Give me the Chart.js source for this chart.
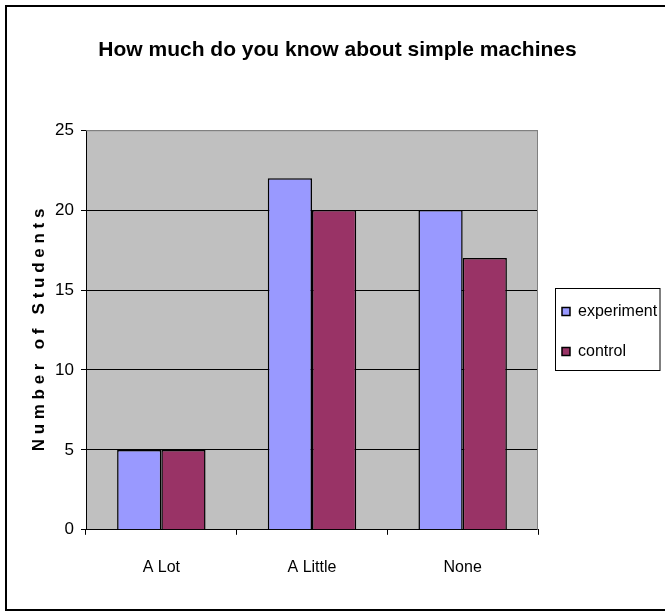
<!DOCTYPE html>
<html>
<head>
<meta charset="utf-8">
<script src="https://cdn.jsdelivr.net/npm/chart.js@4.4.0/dist/chart.umd.min.js"></script>
<style>
  html, body { margin: 0; padding: 0; background: #ffffff; }
  #wrap { width: 665px; height: 614px; }
</style>
</head>
<body>
<div id="wrap"><canvas id="barChart"></canvas></div>
<script>
//////////////////////* Data *////////////////////////////
let answers = ["A Lot", "A Little", "None"];

let experimentCounts = [5, 22, 20];
let controlCounts = [5, 20, 17];

let yTicks = [0, 5, 10, 15, 20, 25];

//////////////////////* Styles *////////////////////////////
let mainFont = "'Liberation Sans', Arial, sans-serif";
let experimentColor = "#9999FF";
let controlColor = "#993366";
let plotGray = "#C0C0C0";
let plotBorder = "#808080";

// gray plot area, frame round the picture and box round the legend
let decorPlugin = {
    id: "decor",
    beforeDraw: function (chart) {
        let ctx = chart.ctx;
        let a = chart.chartArea;
        ctx.save();
        ctx.fillStyle = plotGray;
        ctx.fillRect(a.left, a.top, a.right - a.left, a.bottom - a.top);
        ctx.restore();
    },
    afterDatasetsDraw: function (chart) {
        let ctx = chart.ctx;
        let a = chart.chartArea;
        ctx.save();
        ctx.strokeStyle = plotBorder;
        ctx.lineWidth = 1;
        ctx.beginPath();
        ctx.moveTo(a.left, a.top + 0.5);
        ctx.lineTo(a.right - 0.5, a.top + 0.5);
        ctx.lineTo(a.right - 0.5, a.bottom);
        ctx.stroke();
        ctx.restore();
    },
    afterDraw: function (chart) {
        let ctx = chart.ctx;
        ctx.save();
        ctx.strokeStyle = "#000000";
        ctx.lineWidth = 2;
        ctx.strokeRect(6, 6, 680, 604);

        let boxes = chart.legend.legendHitBoxes;
        if (boxes && boxes.length) {
            let first = boxes[0];
            let last = boxes[boxes.length - 1];
            let c0 = first.top + first.height / 2;
            let c1 = last.top + last.height / 2;
            let left = Math.round(first.left - 7) + 0.5;
            ctx.lineWidth = 1;
            ctx.strokeRect(left, Math.round(c0 - 24) + 0.5, 660 - left, Math.round(c1 - c0 + 42));
        }
        ctx.restore();
    }
};

//////////////////////* Bar Chart *////////////////////////////
function barChart() {
    let ctx = document.getElementById("barChart");
    let data = {
        labels: answers,
        datasets: [
            {
                label: "experiment",
                data: experimentCounts,
                backgroundColor: experimentColor,
                borderColor: "#000000",
                borderWidth: 1.5,
                categoryPercentage: 0.587,
                barPercentage: 1.0,
            },
            {
                label: "control",
                data: controlCounts,
                backgroundColor: controlColor,
                borderColor: "#000000",
                borderWidth: 1.5,
                categoryPercentage: 0.587,
                barPercentage: 1.0,
            },
        ],
    };
    let config = {
        type: "bar",
        data: data,
        plugins: [decorPlugin],
        options: {
            responsive: true,
            maintainAspectRatio: false,
            animation: false,
            layout: {
                padding: { left: 15, right: 5, top: 0, bottom: 14 },
            },
            plugins: {
                title: {
                    display: true,
                    text: "How much do you know about simple machines",
                    color: "#000000",
                    font: { family: mainFont, weight: "bold", size: 21, lineHeight: 1.2 },
                    padding: { top: 38, bottom: 67 },
                },
                legend: {
                    position: "right",
                    align: "center",
                    maxWidth: 122,
                    title: {
                        display: true,
                        text: " ",
                        font: { size: 10 },
                        padding: { top: 0, bottom: 51 },
                    },
                    labels: {
                        color: "#000000",
                        boxWidth: 8,
                        boxHeight: 8,
                        padding: 24,
                        font: { family: mainFont, size: 16 },
                    },
                },
                tooltip: { enabled: false },
            },
            scales: {
                y: {
                    min: 0,
                    max: 25,
                    afterBuildTicks: function (scale) {
                        scale.ticks = yTicks.map(function (v) { return { value: v }; });
                    },
                    afterFit: function (scale) {
                        scale.width = 71;
                    },
                    ticks: {
                        color: "#000000",
                        padding: 7,
                        font: { family: mainFont, size: 17 },
                    },
                    grid: {
                        color: function (c) {
                            return c.tick && c.tick.value === 25 ? plotBorder : "#000000";
                        },
                        tickColor: "#000000",
                        tickLength: 5,
                    },
                    border: { color: "#000000", width: 1 },
                    title: {
                        display: true,
                        text: "N u m b e r   o f   S t u d e n t s",
                        color: "#000000",
                        font: { family: mainFont, weight: "bold", size: 17 },
                        padding: { top: 14, bottom: 0 },
                    },
                },
                x: {
                    ticks: {
                        color: "#000000",
                        padding: 23,
                        font: { family: mainFont, size: 16 },
                    },
                    grid: {
                        offset: true,
                        drawOnChartArea: false,
                        color: "#000000",
                        tickLength: 5,
                    },
                    border: { color: "#000000", width: 1 },
                },
            },
        },
    };
    let chart = new Chart(ctx, config);
}

barChart();
</script>
</body>
</html>
